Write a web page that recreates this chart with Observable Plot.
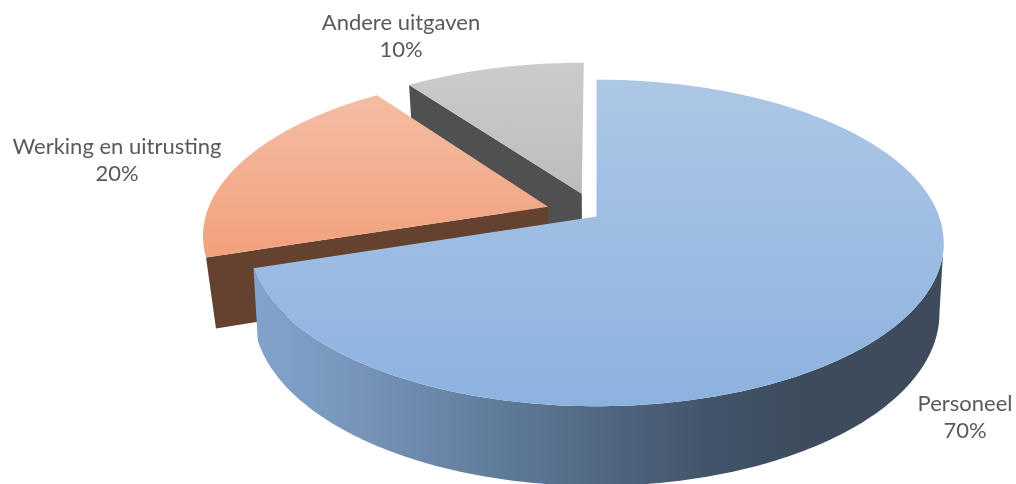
<!DOCTYPE html>
<html>
<head>
<meta charset="utf-8">
<script src="https://cdn.jsdelivr.net/npm/d3@7"></script>
<script src="https://cdn.jsdelivr.net/npm/@observablehq/plot@0.6"></script>
<style>html,body{margin:0;padding:0;background:#fff}svg{display:block}</style>
</head>
<body>
<div id="chart"></div>
<script>
// Chart data
const categories = ["Personeel", "Werking en uitrusting", "Andere uitgaven"];
const values = [70, 20, 10];

// Scene: perspective of the tilted 3D pie and how far each slice is pulled out
const explodeU = [0, -0.143, -0.044];
const explodeV = [0, 0.062, 0.147];
const depthD = [70, 71, 72];
const depthK = [0.012, 0.025, 0.025];
const scene = {cx: 596, cy: 216, R: 342.6, A: 159, k: 0.162};
const labelX = [964.5, 116.5, 400.5];
const labelY = [415.5, 158.5, 34.5];

const total = d3.sum(values);
const ends = Array.from(d3.cumsum(values), (v) => (v / total) * 360);
const slices = categories.map((name, i) => ({
  name, value: values[i],
  a0: i ? ends[i - 1] : 0, a1: ends[i],
  ou: explodeU[i], ov: explodeV[i], dD: depthD[i], dK: depthK[i]
}));

function project(s, angle, r, low) {
  const t = (angle * Math.PI) / 180;
  const u = s.ou + r * Math.sin(t), v = s.ov + r * Math.cos(t);
  const w = 1 + scene.k * v + (low ? s.dK : 0);
  return {x: scene.cx + (scene.R * u) / w, y: scene.cy + (-scene.A * v + (low ? s.dD : 0)) / w};
}
const degrees = (a, b) => {
  const out = [], n = Math.ceil(Math.abs(b - a));
  for (let i = 0; i <= n; ++i) out.push(a + ((b - a) * i) / n);
  return out;
};
const topFace = (s) => [project(s, 0, 0, false), ...degrees(s.a0, s.a1).map((a) => project(s, a, 1, false))];
const cutWall = (s, a) => [project(s, 0, 0, false), project(s, a, 1, false), project(s, a, 1, true), project(s, 0, 0, true)];
const rimWall = (s, a, b) => [
  ...degrees(a, b).map((x) => project(s, x, 1, false)),
  ...degrees(b, a).map((x) => project(s, x, 1, true))
];

const shape = (points, fill) => Plot.line(points, {x: "x", y: "y", fill, stroke: "none", curve: "linear-closed"});

function gradients() {
  const defs = d3.create("svg:defs");
  const add = (id, horizontal, stops) => {
    const g = defs.append("linearGradient").attr("id", id)
      .attr("x1", 0).attr("y1", 0).attr("x2", horizontal ? 1 : 0).attr("y2", horizontal ? 0 : 1);
    for (const [o, c] of stops) g.append("stop").attr("offset", o).attr("stop-color", c);
  };
  add("g-blue", false, [[0, "#adc7e5"], [1, "#8db2e0"]]);
  add("g-orange", false, [[0, "#f4bda4"], [1, "#f2a07c"]]);
  add("g-gray", false, [[0, "#cccccc"], [1, "#bcbcbc"]]);
  add("g-side", true, [[0, "#82a4cc"], [0.15, "#7795ba"], [0.36, "#5f7b9a"], [0.65, "#43556b"], [0.8, "#3d4b5c"], [1, "#3d4b5c"]]);
  return defs.node();
}

const [blue, orange, gray] = slices;
const plot = Plot.plot({
  width: 1016, height: 484,
  margin: 0,
  style: {filter: "blur(0.5px)"},
  x: {domain: [0, 1016], range: [0, 1016], axis: null},
  y: {domain: [0, 484], range: [0, 484], axis: null},
  marks: [
    gradients,
    shape(cutWall(gray, gray.a0), "#505050"),
    shape(topFace(gray), "url(#g-gray)"),
    shape(cutWall(orange, orange.a0), "#65422f"),
    shape(topFace(orange), "url(#g-orange)"),
    shape(rimWall(blue, 99, blue.a1), "url(#g-side)"),
    shape(topFace(blue), "url(#g-blue)"),
    Plot.text(slices, {
      x: (d, i) => labelX[i], y: (d, i) => labelY[i],
      text: (d) => `${d.name}\n${d.value}%`,
      fill: "#595959", fontFamily: "Lato", fontSize: 22, lineHeight: 1.24,
      textAnchor: "middle"
    })
  ]
});
document.getElementById("chart").append(plot);
</script>
</body>
</html>
